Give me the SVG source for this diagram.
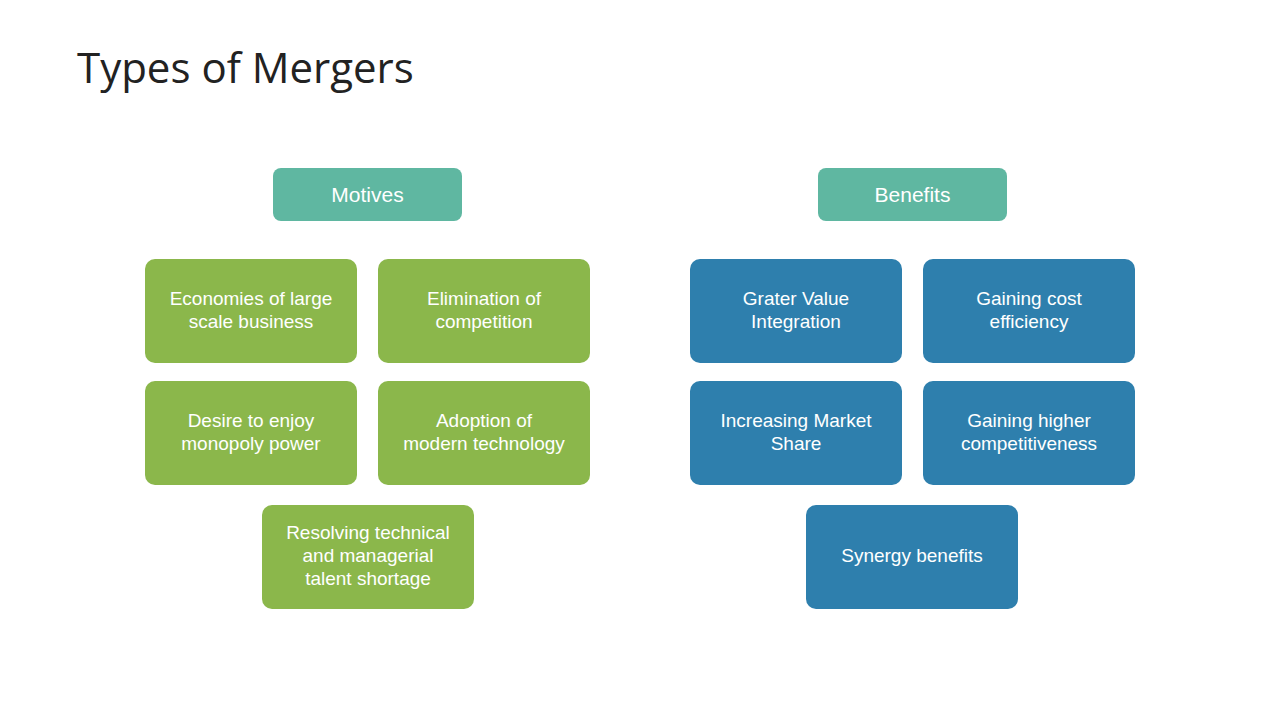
<svg xmlns="http://www.w3.org/2000/svg" width="1280" height="720" viewBox="0 0 1280 720">
<style>
.h{fill:#5fb7a1}.g{fill:#8bb74b}.b{fill:#2e7fad}
text{font-family:"Liberation Sans",Arial,sans-serif;fill:#fff;font-size:19px;text-anchor:middle}
.t{font-family:"Open Sans","Liberation Sans",sans-serif;fill:#222;font-size:42px;text-anchor:start}
.hl{font-size:21px}
</style>
<rect width="1280" height="720" fill="#fff"/>
<text class="t" x="77" y="83">Types of Mergers</text>
<g id="motives"><rect class="h" x="273" y="168" width="189" height="53" rx="8"/><text class="hl" x="367.5" y="202">Motives</text></g>
<g id="benefits"><rect class="h" x="818" y="168" width="189" height="53" rx="8"/><text class="hl" x="912.5" y="202">Benefits</text></g>
<g id="m1"><rect class="g" x="145" y="259" width="212" height="104" rx="10"/><text x="251" y="305">Economies of large</text><text x="251" y="328">scale business</text></g>
<g id="m2"><rect class="g" x="378" y="259" width="212" height="104" rx="10"/><text x="484" y="305">Elimination of</text><text x="484" y="328">competition</text></g>
<g id="m3"><rect class="g" x="145" y="381" width="212" height="104" rx="10"/><text x="251" y="427">Desire to enjoy</text><text x="251" y="450">monopoly power</text></g>
<g id="m4"><rect class="g" x="378" y="381" width="212" height="104" rx="10"/><text x="484" y="427">Adoption of</text><text x="484" y="450">modern technology</text></g>
<g id="m5"><rect class="g" x="262" y="505" width="212" height="104" rx="10"/><text x="368" y="539">Resolving technical</text><text x="368" y="562">and managerial</text><text x="368" y="585">talent shortage</text></g>
<g id="b1"><rect class="b" x="690" y="259" width="212" height="104" rx="10"/><text x="796" y="305">Grater Value</text><text x="796" y="328">Integration</text></g>
<g id="b2"><rect class="b" x="923" y="259" width="212" height="104" rx="10"/><text x="1029" y="305">Gaining cost</text><text x="1029" y="328">efficiency</text></g>
<g id="b3"><rect class="b" x="690" y="381" width="212" height="104" rx="10"/><text x="796" y="427">Increasing Market</text><text x="796" y="450">Share</text></g>
<g id="b4"><rect class="b" x="923" y="381" width="212" height="104" rx="10"/><text x="1029" y="427">Gaining higher</text><text x="1029" y="450">competitiveness</text></g>
<g id="b5"><rect class="b" x="806" y="505" width="212" height="104" rx="10"/><text x="912" y="562">Synergy benefits</text></g>
<g id="connectors"/>
</svg>
